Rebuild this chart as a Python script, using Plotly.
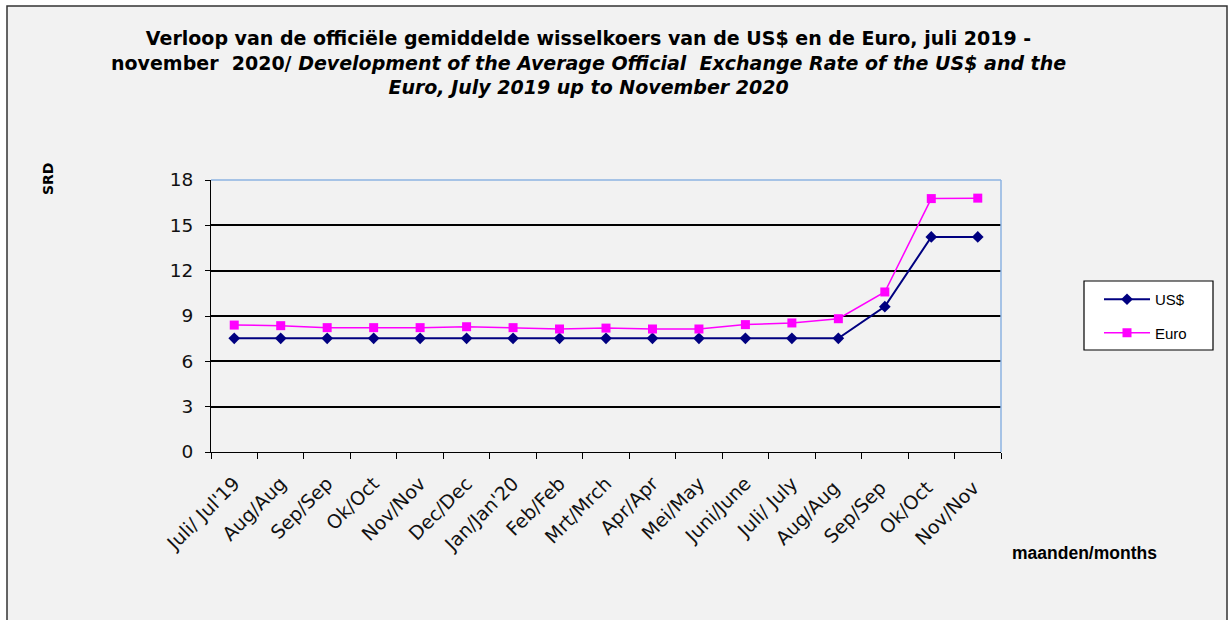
import plotly.graph_objects as go

months = ["Juli/ Jul'19", "Aug/Aug", "Sep/Sep", "Ok/Oct", "Nov/Nov", "Dec/Dec",
          "Jan/Jan'20", "Feb/Feb", "Mrt/Mrch", "Apr/Apr", "Mei/May", "Juni/June",
          "Juli/ July", "Aug/Aug ", "Sep/Sep ", "Ok/Oct ", "Nov/Nov "]
usd = [7.52, 7.52, 7.52, 7.52, 7.52, 7.52, 7.52, 7.52, 7.52, 7.52, 7.52, 7.52,
       7.52, 7.52, 9.62, 14.23, 14.23]
euro = [8.40, 8.36, 8.23, 8.23, 8.23, 8.29, 8.23, 8.14, 8.20, 8.14, 8.14, 8.43,
        8.54, 8.82, 10.59, 16.77, 16.80]
y_ticks = [0, 3, 6, 9, 12, 15, 18]

FONT = "Liberation Sans, Arial, sans-serif"
WIDE = "DejaVu Sans, sans-serif"

# plot area in pixels
L, R, T, B = 211, 1001, 180, 452
W, H = 1232, 620
pw, ph = R - L, B - T
def px(x):
    return (x - L) / pw
def py(y):
    return (B - y) / ph

fig = go.Figure()
fig.add_trace(go.Scatter(
    x=months, y=usd, name="US$", mode="lines+markers", legendgroup="a",
    line=dict(color="#000080", width=2),
    marker=dict(symbol="diamond", size=9, color="#000080"),
))
fig.add_trace(go.Scatter(
    x=months, y=euro, name="Euro", mode="lines+markers", legendgroup="b",
    line=dict(color="#ff00ff", width=1.5),
    marker=dict(symbol="square", size=9, color="#ff00ff"),
))

title = ("<b>Verloop van de officiële gemiddelde wisselkoers van de US$ en de Euro, juli 2019 -<br>"
         "november  2020/ <i>Development of the Average Official  Exchange Rate of the US$ and the</i><br>"
         "<i>Euro, July 2019 up to November 2020</i></b>")

fig.update_layout(
    width=W, height=H,
    margin=dict(l=L, r=W - R, t=T, b=H - B, pad=0),
    paper_bgcolor="white",
    plot_bgcolor="#c4d79b",
    font=dict(family=FONT, color="black"),
    showlegend=True,
    legend=dict(
        x=px(1099), y=py(283), xanchor="left", yanchor="top",
        bgcolor="rgba(0,0,0,0)", borderwidth=0,
        font=dict(size=15, family=FONT), itemwidth=46, tracegroupgap=11,
    ),
    xaxis=dict(
        type="category", tickangle=-45, tickson="boundaries",
        ticks="outside", ticklen=6, tickcolor="black",
        showline=True, linecolor="black", linewidth=1, ticklabelstandoff=12,
        showgrid=False, tickfont=dict(size=19, family=WIDE, color="#111"),
        range=[-0.5, len(months) - 0.5],
    ),
    yaxis=dict(
        range=[0, 18], tickvals=y_ticks, ticks="outside", ticklen=5,
        tickcolor="black", showline=True, linecolor="black", linewidth=1,
        showgrid=True, gridcolor="black", gridwidth=2, ticklabelstandoff=8,
        zeroline=False, tickfont=dict(size=18.5, family=WIDE, color="#111"),
    ),
    shapes=[
        dict(type="rect", xref="paper", yref="paper",
             x0=px(7), x1=px(1227), y0=py(640), y1=py(6),
             fillcolor="#f2f2f2", line=dict(color="#333333", width=1.5),
             layer="below"),
        dict(type="rect", xref="paper", yref="paper",
             x0=px(1084), x1=px(1213), y0=py(350), y1=py(281),
             fillcolor="white", line=dict(color="black", width=1.2),
             layer="below"),
        dict(type="line", xref="paper", yref="paper", x0=0, x1=1, y0=1, y1=1,
             line=dict(color="#8db3e2", width=1.5), layer="above"),
        dict(type="line", xref="paper", yref="paper", x0=1, x1=1, y0=0, y1=1,
             line=dict(color="#8db3e2", width=1.5), layer="above"),
    ],
    annotations=[
        dict(text=title, xref="paper", yref="paper", x=px(588), y=py(25),
             xanchor="center", yanchor="top", showarrow=False,
             font=dict(size=19, family=WIDE), align="center"),
        dict(text="<b>SRD</b>", xref="paper", yref="paper", x=px(48), y=py(179),
             xanchor="center", yanchor="middle", textangle=-90, showarrow=False,
             font=dict(size=14, family=WIDE)),
        dict(text="<b>maanden/months</b>", xref="paper", yref="paper", x=px(1010), y=py(553),
             xanchor="left", yanchor="middle", showarrow=False,
             font=dict(size=17.5, family=FONT)),
    ],
)

fig.write_html("out.html", config={"displayModeBar": False},
               post_script="document.body.style.margin='0';")
